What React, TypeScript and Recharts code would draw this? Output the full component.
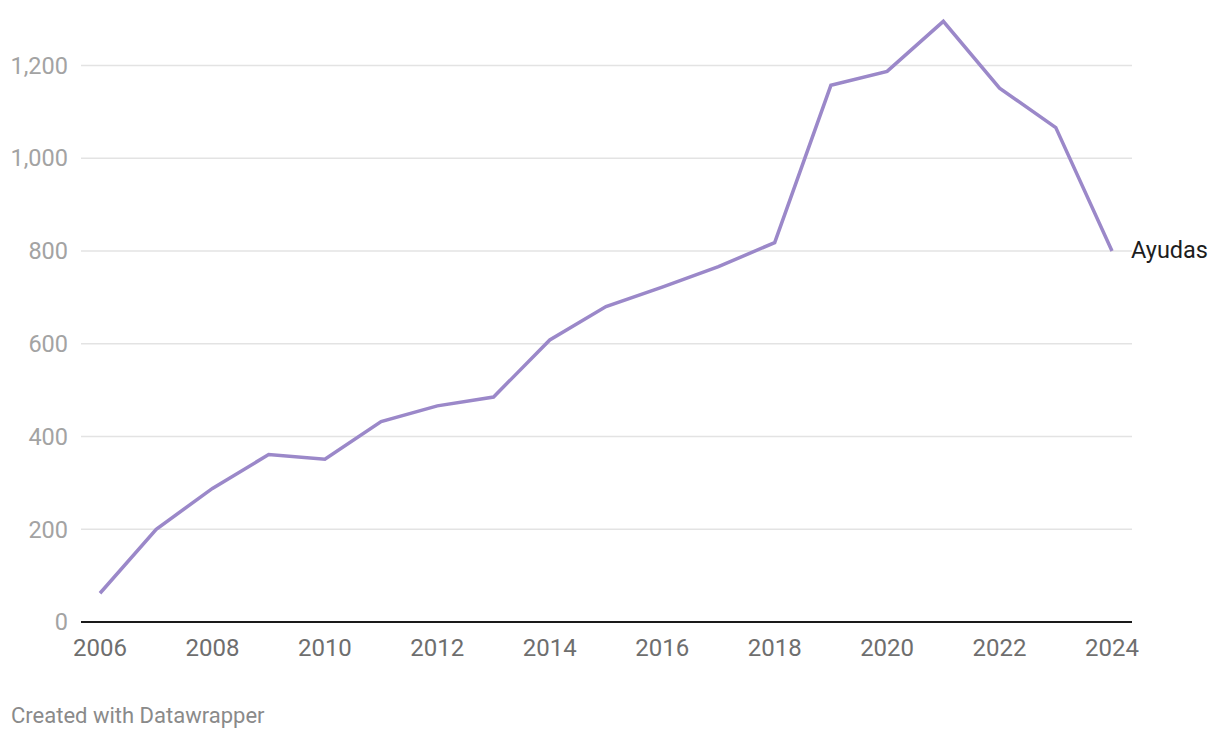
import React from "react";
import { LineChart, Line, XAxis, YAxis, ReferenceLine } from "recharts";

const years = [2006, 2007, 2008, 2009, 2010, 2011, 2012, 2013, 2014, 2015, 2016, 2017, 2018, 2019, 2020, 2021, 2022, 2023, 2024];
const ayudas = [62, 200, 288, 361, 351, 432, 466, 485, 608, 680, 722, 766, 818, 1157, 1187, 1295, 1151, 1066, 800];
const xTicks = [2006, 2008, 2010, 2012, 2014, 2016, 2018, 2020, 2022, 2024];
const yTicks = [0, 200, 400, 600, 800, 1000, 1200];
const gridTicks = [200, 400, 600, 800, 1000, 1200];
const seriesName = "Ayudas";

const data = years.map((year, i) => ({ year, value: ayudas[i] }));

const FONT = "Roboto, 'Noto Sans', sans-serif";

const EndLabel = (props: any) => {
  const { x, y, index } = props;
  if (index !== data.length - 1) return null;
  return (
    <text x={x + 19} y={y} dy="0.3em" fill="#1d1d1d" fontSize={23.5} fontFamily={FONT} textAnchor="start">
      {seriesName}
    </text>
  );
};

export default function App() {
  return (
    <div style={{ position: "absolute", left: 0, top: 0, width: 1220, height: 738, background: "#fff" }}>
      <LineChart width={1220} height={738} data={data} margin={{ top: 19, right: 88, bottom: 86, left: 0 }}>
        {gridTicks.map((v) => (
          <ReferenceLine key={v} y={v} stroke="#e3e3e3" strokeWidth={1.5} ifOverflow="visible" />
        ))}
        <XAxis
          dataKey="year"
          type="number"
          domain={[2006, 2024]}
          ticks={xTicks}
          padding={{ left: 19, right: 20 }}
          height={30}
          tickSize={0}
          tickMargin={17}
          axisLine={{ stroke: "#1a1a1a", strokeWidth: 2 }}
          tickLine={false}
          tick={{ fill: "#6e6e6e", fontSize: 24, fontFamily: FONT }}
          interval={0}
        />
        <YAxis
          type="number"
          domain={[0, 1300]}
          ticks={yTicks}
          width={81}
          tickSize={0}
          tickMargin={13}
          axisLine={false}
          tickLine={false}
          tickFormatter={(v: number) => v.toLocaleString("en-US")}
          tick={{ fill: "#a3a3a3", fontSize: 23.5, fontFamily: FONT }}
          interval={0}
        />
        <Line
          dataKey="value"
          stroke="#9b88c9"
          strokeWidth={3.5}
          dot={false}
          activeDot={false}
          isAnimationActive={false}
          type="linear"
          label={<EndLabel />}
        />
      </LineChart>
      <div
        style={{
          position: "absolute",
          left: 11,
          top: 703,
          fontFamily: FONT,
          fontSize: 22,
          color: "#8a8a8a",
          whiteSpace: "nowrap",
        }}
      >
        Created with Datawrapper
      </div>
    </div>
  );
}
